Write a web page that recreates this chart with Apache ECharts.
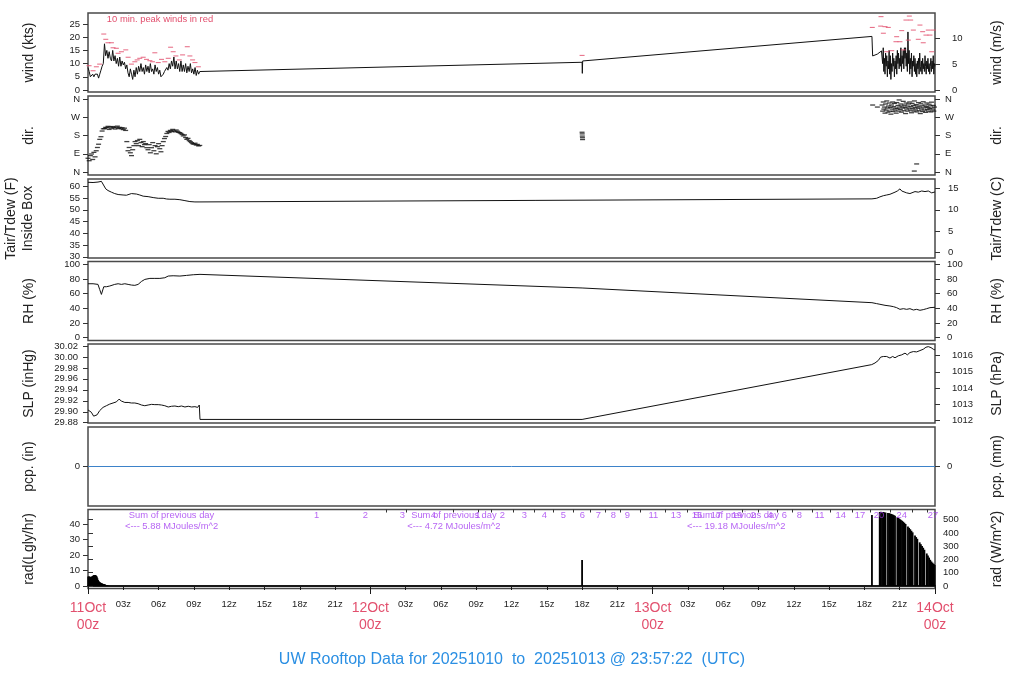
<!DOCTYPE html>
<html><head><meta charset="utf-8">
<script src="https://cdn.jsdelivr.net/npm/echarts@6/dist/echarts.min.js"></script>
<style>html,body{margin:0;padding:0;background:#fff}#c{width:1024px;height:700px}</style>
</head><body><div id="c"></div>
<script>
// ---------------- DATA (hours since 11Oct 00z) ----------------
// wind speed (kts): first block sampled every 0.1 h from 0 h
const windA = [8.5,7,5,4.5,6,5,6,5.5,6,4.5, 6,7.5,9,10,17.5,13,15,12,14.5,12,
  11,15,11,13,10,12,9,12.5,9,11, 9.5,10.5,8,9.5,6.5,5,8,6,4,7.5,
  5,8.5,6,9,7,10,7,8.5,6,9.5, 7,9,6.5,10,7,8,6,9.5,7,8.5,
  6,7.5,5,4.5,6,7,6.5,8.5,7.5,10, 8,11,9,12.5,8,11,8,10,7,11,
  7,9.5,7,10,6.5,9,7,10,6.5,8, 6,8.5,5.5,7.5,6,7];
const windB = [[42.0,10.5],[42.02,6.3],[42.05,11.0],[66.64,20.3],[66.7,12.9],[67.1,13.6],[67.45,14.8]];
// last block sampled every 0.05 h from 67.5 h
const windC = [15,10,16,7,12,6,14,9,13,5, 11,8,15,6,13,4,10,7,14,9,
  12,5,11,8,13,6,15,10,14,8, 12,9,16,7,13,10,15,8,16,12,
  16,9,14,7,22,10,15,6,12,8, 14,5,11,9,13,7,12,6,10,5,
  11,8,12,6,14,9,7,11,6,12, 8,10,7,13,9,6,11,8,12,7,
  10,6,9,12,7,11,8,13,6,10,9];
// 10 min peak winds (kts)
const peakWind = [[0.09,9.2],[0.43,7.3],[0.71,8.8],[0.99,9.8],[1.34,21.2],[1.51,19.2],[1.7,17.9],[1.99,17.9],
  [2.13,16],[2.41,15.8],[2.56,13.9],[2.84,14.5],[3.21,15.2],[3.41,12.4],[3.69,9.8],[3.98,10.7],[4.18,11.4],
  [4.4,12],[4.69,12.4],[4.97,11.6],[5.26,11.1],[5.48,10.7],[5.68,14.1],[5.97,10.4],[6.25,11.6],[6.53,10.7],
  [6.82,12],[7.02,16.2],[7.24,14.5],[7.47,12.9],[7.76,11.4],[8.04,13.3],[8.44,16.4],[8.66,12.9],[8.89,11.4],
  [9.09,10.4],[9.38,8.8],[42.0,13.1],
  [66.67,23.7],[67.41,27.8],[67.38,24.2],[67.61,21.5],[67.75,24],[67.89,14.5],[68.03,23.7],[68.32,14.9],
  [68.68,18.3],[68.74,20.2],[69.02,18.3],[69.17,22.5],[69.31,15.2],[69.53,26.5],[69.73,18.9],[69.82,28],
  [69.93,26.5],[70.16,22.7],[70.58,19.2],[70.72,24.6],[70.95,22.1],[71.0,17.9],[71.23,20.8],[71.43,22.7],
  [71.57,20.8],[71.72,14.5],[71.86,22.7]];
// wind direction (deg): first block every 0.1 h from 0 h
const dirA = [68,56,81,89,62,97,75,105,121,137, 161,174,202,213,214,220,218,225,210,222,
  216,224,219,212,221,226,215,220,213,218, 209,216,205,150,105,121,95,81,110,130,
  150,140,155,130,161,145,125,150,135,140, 120,110,135,95,120,145,105,130,90,125,
  140,115,100,130,150,165,175,190,200,195, 205,200,210,203,198,207,201,196,194,190,
  185,178,183,170,161,166,155,150,145,140, 137,142,133,136,129,131];
const dirB = [[42.0,196],[42.01,188],[42.02,177],[42.03,169],[42.04,160],[66.7,330],[67.1,320],[70.24,5],[70.44,40]];
// last block every 0.05 h from 67.5 h
const dirC = [330,300,345,310,320,290,335,305,350,315, 295,325,340,300,318,285,330,310,345,298,
  322,338,305,315,290,342,312,328,300,355, 320,308,335,295,325,315,348,302,330,318,
  288,340,310,325,300,335,315,345,305,322, 292,338,312,328,300,350,318,306,332,296,
  325,314,342,302,320,288,336,310,326,298, 346,316,305,330,294,322,340,308,318,300,
  334,312,326,296,344,315,306,328,300,320];
// inside-box air temperature (F)
const tempF = [[0,61.7],[0.43,61.6],[0.85,61.8],[0.99,62.0],[1.14,62.1],[1.28,61.4],[1.51,58.9],[1.7,58.2],
  [1.99,57.5],[2.27,56.9],[2.56,56.5],[2.98,56.3],[3.27,56.2],[3.41,56.6],[3.69,56.9],[4.12,56.7],[4.4,56.3],
  [4.69,55.8],[5.11,55.6],[5.54,55.2],[5.97,54.9],[6.39,54.9],[6.68,54.6],[6.96,54.5],[7.39,54.5],[7.81,54.3],
  [8.24,53.9],[8.66,53.5],[9.09,53.35],[9.52,53.35],
  [66.64,54.65],[66.76,54.05],[67.04,54.9],[67.32,55.5],[67.61,56.0],[67.89,56.3],[68.03,56.9],[68.17,56.6],
  [68.32,57.2],[68.6,57.5],[68.8,58.0],[69.02,58.9],[69.17,58.0],[69.31,57.75],[69.59,57.2],[69.87,56.9],
  [70.02,57.5],[70.3,57.75],[70.58,57.5],[70.87,58.0],[71.15,57.75],[71.43,58.0],[71.72,57.2],[72.0,57.6]];
// relative humidity (%)
const rh = [[0,73.6],[0.43,73.6],[0.85,72.7],[0.99,65.9],[1.14,59],[1.22,57.7],[1.34,69.5],[1.56,69.5],
  [1.85,70.5],[1.99,68.6],[2.27,72.7],[2.56,73.6],[2.84,72.7],[3.13,73.6],[3.41,72.7],[3.69,71.8],[3.98,71.4],
  [4.26,72.7],[4.55,76.8],[4.83,79.5],[5.26,80.9],[5.68,80.9],[6.11,80.9],[6.53,81.8],[6.82,84.1],[7.24,84.5],
  [7.81,84.1],[8.38,85],[8.95,85.9],[9.52,86.4],[42.0,67.8],
  [66.64,47.7],[67.04,46.4],[67.32,45.5],[67.75,44.1],[68.17,43.2],[68.46,42.3],[68.74,40.9],[69.02,38.6],
  [69.31,39.5],[69.59,38.6],[69.87,39.5],[70.16,37.7],[70.44,38.6],[70.72,37.3],[71.0,38.2],[71.29,39.5],
  [71.57,40.9],[72.0,41.4]];
// sea level pressure (inHg)
const slp = [[0,29.9033],[0.28,29.8992],[0.48,29.892],[0.63,29.8884],[0.77,29.8944],[0.99,29.902],[1.28,29.908],
  [1.56,29.911],[1.85,29.914],[2.13,29.916],[2.41,29.918],[2.64,29.923],[2.84,29.9195],[3.13,29.917],[3.41,29.917],
  [3.69,29.916],[3.98,29.916],[4.26,29.9147],[4.55,29.9123],[4.83,29.911],[5.11,29.9123],[5.4,29.9135],
  [5.68,29.913],[5.97,29.913],[6.25,29.9123],[6.53,29.911],[6.82,29.9087],[7.1,29.91],[7.39,29.9105],
  [7.67,29.9093],[7.95,29.9105],[8.24,29.9087],[8.52,29.91],[8.81,29.9087],[9.09,29.9093],[9.32,29.908],
  [9.46,29.9123],[9.52,29.886],[42.0,29.886],[42.02,29.889],
  [66.62,29.986],[66.9,29.989],[67.18,29.9936],[67.38,29.9997],[67.47,30.002],[67.61,30.0008],[67.75,29.998],
  [67.89,30.0008],[68.17,29.998],[68.4,30.0008],[68.6,29.9985],[68.88,30.002],[69.17,30.0038],[69.45,30.0069],
  [69.65,30.0038],[69.87,30.008],[70.16,30.0098],[70.44,30.0092],[70.72,30.0116],[71.0,30.014],[71.23,30.0177],
  [71.43,30.0188],[71.66,30.017],[71.86,30.014],[72.0,30.0128]];
// precipitation (in)
const pcp = [[0,0],[72,0]];
// solar radiation (Langley/hr): first block every 0.05 h from 0 h
const radA = [6.1,6.0,6.2,5.9,6.0,5.8,5.7,6.3,6.5,6.8,7.0,7.1,7.2,7.0,6.6,6.1,5.0,3.9,
  3.2,2.8,2.5,2.2,2.0,1.8,1.6,1.4,1.3,1.2,1.1,0.9,0.7,0.6,0.4,0.3,0.2,0.1];
const radB = [[42.0,16.9],[66.64,46]];
// last block every 0.1 h from 67.3 h (null = missing sample)
const radC = [48.0,48.1,48.0,48.0,47.8,47.6,null,47.3,47.2,47.0,46.7,46.4,46.0,45.6,null,44.6,44.1,43.5,
  42.9,42.3,41.7,41.0,40.2,null,38.6,37.7,36.8,35.8,34.8,null,32.8,31.7,30.6,null,28.3,27.1,26.0,24.8,
  23.5,null,21.1,19.8,18.4,17.0,15.9,15.1,14.3,13.6];
// daily radiation notes and counters printed along the top of the rad panel
const sumTitle = 'Sum of previous day';
const sumLabels = ['<--- 5.88 MJoules/m^2','<--- 4.72 MJoules/m^2','<--- 19.18 MJoules/m^2'];
const sumHours = [7.1, 31.1, 55.1];
const radCountLabels = ['1','2','3','4','1','2','3','4','5','6','7','8','9','11','13','15','17','19','2','4','6','8','11','14','17','20','24','27'];
const radCountHours = [19.44,23.57,26.72,29.35,33.15,35.22,37.09,38.8,40.4,42.02,43.38,44.65,45.84,48.05,49.98,51.77,53.38,55.17,56.53,57.98,59.19,60.46,62.2,63.98,65.62,67.24,69.17,71.83];
const radTopTickHours = [25.39,27.09,31.03,33.15,34.32,36.13,37.91,39.53,41.23,42.67,43.95,45.23,46.93,49.05,50.92,
  55.59,56.95,58.57,59.84,61.54,63.07,64.94,66.47,68.17,70.04,71.31];
// tick values / labels
const xTickHours = [0,3,6,9,12,15,18,21,24,27,30,33,36,39,42,45,48,51,54,57,60,63,66,69,72];
const xTickLabels = ['11Oct|00z','03z','06z','09z','12z','15z','18z','21z','12Oct|00z','03z','06z','09z','12z','15z','18z','21z','13Oct|00z','03z','06z','09z','12z','15z','18z','21z','14Oct|00z'];
const dayTickHours = [0,24,48,72];
const windKtsTicks = [0,5,10,15,20,25];
const windMsTicks = [0,5,10];
const dirTicks = [0,90,180,270,360];
const dirTickLabels = ['N','E','S','W','N'];
const tempFTicks = [30,35,40,45,50,55,60];
const tempCTicks = [0,5,10,15];
const rhTicks = [0,20,40,60,80,100];
const slpInTicks = [29.88,29.90,29.92,29.94,29.96,29.98,30.00,30.02];
const slpHpaTicks = [1012,1013,1014,1015,1016];
const pcpInTicks = [0];
const pcpMmTicks = [0];
const radLglyTicks = [0,10,20,30,40];
const radWm2Ticks = [0,100,200,300,400,500];
const titleText = 'UW Rooftop Data for 20251010  to  20251013 @ 23:57:22  (UTC)';
const peakNote = '10 min. peak winds in red';

// ---------------- CHART ----------------
const FONT = "'Liberation Sans', Arial, Helvetica, sans-serif";
const INK = '#222';
const RED = '#e2506e';
const PURPLE = '#a43cf0';
const chart = echarts.init(document.getElementById('c'), null, {renderer:'canvas'});

const num = v => String(Math.round(v*1000)/1000);
const panels = [
  {top:13, lmin:-0.76, lmax:29.17, lt:windKtsTicks, lf:num, rc:v=>v/1.9438, rt:windMsTicks, rf:num, rm:17, lm:8, ln:['wind (kts)'], rn:'wind (m/s)'},
  {top:96, lmin:-14.4, lmax:374.4, lt:dirTicks, lf:v=>dirTickLabels[dirTicks.indexOf(Math.round(v))], rc:v=>v, rt:dirTicks, rf:v=>dirTickLabels[dirTicks.indexOf(Math.round(v))], rm:10, lm:8, ln:['dir.'], rn:'dir.'},
  {top:179, lmin:29.5, lmax:63.1, lt:tempFTicks, lf:num, rc:v=>(v-32)/1.8, rt:tempCTicks, rf:num, rm:13, lm:8, ln:['Tair/Tdew (F)','Inside Box'], rn:'Tair/Tdew (C)'},
  {top:261.5, lmin:-4, lmax:104, lt:rhTicks, lf:num, rc:v=>v, rt:rhTicks, rf:num, rm:12, lm:8, ln:['RH (%)'], rn:'RH (%)'},
  {top:344, lmin:29.8795, lmax:30.0236, lt:slpInTicks, lf:v=>v.toFixed(2), rc:v=>v*33.8639, rt:slpHpaTicks, rf:num, rm:17, lm:10, ln:['SLP (inHg)'], rn:'SLP (hPa)'},
  {top:427, lmin:-1, lmax:1, lt:pcpInTicks, lf:num, rc:v=>v*25.4, rt:pcpMmTicks, rf:num, rm:12, lm:8, ln:['pcp. (in)'], rn:'pcp. (mm)'},
  {top:509.5, lmin:-1.62, lmax:49.6, lt:radLglyTicks, lf:num, rc:v=>v*11.63, rt:radWm2Ticks, rf:num, rm:8, lm:8, ln:['rad(Lgly/hr)'], rn:'rad (W/m^2)'}
];
const H = 79, LEFT = 88, RIGHT = 89;

const grids = [], xAxes = [], yAxes = [], graphics = [];
const txt = (x, y, text, size, fill, rot) => ({type:'text', x, y, rotation:rot||0,
  style:{text, fontSize:size, fontFamily:FONT, fill, align:'center', verticalAlign:'middle', textAlign:'center', textVerticalAlign:'middle'}});
panels.forEach((p, i) => {
  grids.push({left:LEFT, right:RIGHT, top:p.top, height:H, show:true, borderColor:'#4a4a4a', borderWidth:1.5,
    backgroundColor:'transparent', containLabel:false, outerBoundsMode:'none'});
  xAxes.push({gridIndex:i, type:'value', min:0, max:72, show:false});
  const yBase = (pos, min, max, ticks, fmt, margin) => ({
    gridIndex:i, type:'value', position:pos, min, max,
    axisLine:{show:false}, splitLine:{show:false}, minorTick:{show:false},
    axisTick:{show:true, length:5, customValues:ticks, lineStyle:{color:'#333', width:1}},
    axisLabel:{show:true, customValues:ticks, formatter:fmt, fontSize:9.5, color:INK, fontFamily:FONT, margin:margin}
  });
  yAxes.push(yBase('left', p.lmin, p.lmax, p.lt, p.lf, p.lm));
  yAxes.push(yBase('right', p.rc(p.lmin), p.rc(p.lmax), p.rt, p.rf, p.rm));
  const cy = p.top + H/2;
  if (p.ln.length === 1) {
    graphics.push(txt(29.5, cy, p.ln[0], 14, INK, Math.PI/2));
  } else {
    graphics.push(txt(11.5, cy, p.ln[0], 14, INK, Math.PI/2));
    graphics.push(txt(28, cy, p.ln[1], 14, INK, Math.PI/2));
  }
  graphics.push(txt(997, cy, p.rn, 14, INK, Math.PI/2));
});
// bottom time axis (3-hourly ticks + labels)
xAxes[6] = {gridIndex:6, type:'value', min:0, max:72, position:'bottom',
  axisLine:{show:true, lineStyle:{color:'#1a1a1a', width:2}},
  axisTick:{show:true, length:4, customValues:xTickHours, lineStyle:{color:'#1a1a1a', width:1}},
  splitLine:{show:false},
  axisLabel:{show:true, customValues:xTickHours, margin:11, fontSize:9.5, color:INK, fontFamily:FONT,
    formatter: v => {
      const k = xTickHours.indexOf(Math.round(v));
      const s = xTickLabels[k] || '';
      if (s.indexOf('|') >= 0) { const parts = s.split('|'); return '{d|' + parts[0] + '}\n{d|' + parts[1] + '}'; }
      return s;
    },
    rich:{d:{fontSize:14, lineHeight:17, color:RED, fontFamily:FONT}}}};
// longer day ticks
xAxes.push({gridIndex:6, type:'value', min:0, max:72, position:'bottom',
  axisLine:{show:false}, splitLine:{show:false}, axisLabel:{show:false},
  axisTick:{show:true, length:8, customValues:dayTickHours, lineStyle:{color:'#1a1a1a', width:1}}});
// small inward ticks along the top of the rad panel
xAxes.push({gridIndex:6, type:'value', min:0, max:72, position:'top',
  axisLine:{show:false}, splitLine:{show:false}, axisLabel:{show:false},
  axisTick:{show:true, inside:true, length:3, customValues:radTopTickHours, lineStyle:{color:'#333', width:1}}});

graphics.push(txt(512, 660, titleText, 16, '#2b8fe3'));
graphics.push(txt(160, 19, peakNote, 9.4, RED));

const lineS = (idx, data, color) => ({type:'line', xAxisIndex:idx, yAxisIndex:idx*2, data, symbol:'none',
  lineStyle:{color:color||'#111', width:1}, animation:false, silent:true, z:3});

const windData = windA.map((v,i)=>[i*0.1, v]).concat(windB, windC.map((v,i)=>[67.5+i*0.05, v]));
const dirData = dirA.map((v,i)=>[i*0.1, v]).concat(dirB, dirC.map((v,i)=>[67.5+i*0.05, v]));
const radData = radA.map((v,i)=>[i*0.05, v]).concat(radB, radC.map((v,i)=>[67.3+i*0.1, v]));

const series = [
  lineS(0, windData),
  {type:'scatter', xAxisIndex:0, yAxisIndex:0, data:peakWind, symbol:'rect', symbolSize:[5,1.1],
    itemStyle:{color:RED}, animation:false, silent:true, z:4},
  {type:'scatter', xAxisIndex:1, yAxisIndex:2, data:dirData, symbol:'rect', symbolSize:[5,1.3],
    itemStyle:{color:'#111'}, animation:false, silent:true},
  lineS(2, tempF),
  lineS(3, rh),
  lineS(4, slp),
  lineS(5, pcp, '#3d82c9'),
  {type:'bar', xAxisIndex:6, yAxisIndex:12, data:radData.filter(d=>d[1]!==null), barWidth:1.8,
    itemStyle:{color:'#000'}, animation:false, silent:true},
  {type:'scatter', xAxisIndex:6, yAxisIndex:12, clip:false, symbolSize:1, itemStyle:{color:'transparent'},
    data: radCountHours.map((h,i)=>({value:[h,46.0], name:radCountLabels[i]}))
      .concat(sumHours.map(h=>({value:[h,46.0], name:sumTitle})))
      .concat(sumHours.map((h,i)=>({value:[h,38.9], name:sumLabels[i]}))),
    label:{show:true, position:'inside', formatter:'{b}', color:PURPLE, fontSize:9.4, fontFamily:FONT},
    labelLayout:{hideOverlap:false}, animation:false, silent:true, z:5}
];

chart.setOption({
  animation:false,
  backgroundColor:'#fff',
  textStyle:{fontFamily:FONT},
  grid:grids, xAxis:xAxes, yAxis:yAxes, series:series, graphic:graphics
});
</script></body></html>
